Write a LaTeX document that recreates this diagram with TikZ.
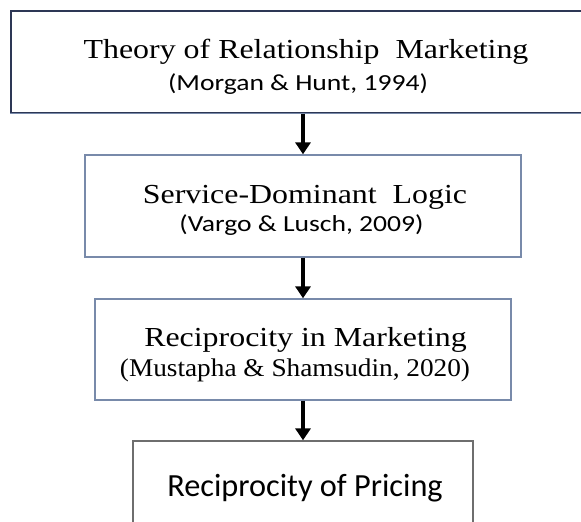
\documentclass[tikz,border=0pt]{standalone}
\usepackage{fontspec}
\usepackage{graphicx}
\setmainfont{Liberation Serif}
\newfontfamily\calfont{Carlito}
\usetikzlibrary{arrows.meta}
\definecolor{navy}{RGB}{45,55,85}
\definecolor{bluegray}{RGB}{120,138,170}
\definecolor{boxgray}{RGB}{110,110,110}
\newcommand{\wideA}[1]{\scalebox{1.16}[1]{#1}}
\newcommand{\wideB}[1]{\scalebox{1.2}[1]{#1}}
\newcommand{\wideC}[1]{\scalebox{1.07}[1]{#1}}
\tikzset{
  x=1pt, y=-1pt,
  boxbase/.style={rectangle, draw, line width=1.3pt, inner sep=0pt, fill=white},
  titletext/.style={anchor=base, inner sep=0pt, font=\fontsize{27.5}{33}\selectfont},
  subsans/.style={anchor=base, inner sep=0pt, font=\calfont\fontsize{23}{28}\selectfont},
  subserif/.style={anchor=base, inner sep=0pt, font=\fontsize{25.5}{31}\selectfont},
  flowarrow/.style={line width=4pt, -{Triangle[width=15pt,length=12pt]}}
}
\begin{document}
\begin{tikzpicture}
\useasboundingbox (0,0) rectangle (581,522);
\clip (0,0) rectangle (581,522);
% boxes
\node[boxbase, draw=navy, minimum width=584pt, minimum height=102pt] (b1) at (303,62) {};
\draw[bluegray, line width=1.3pt] (b1.south west) -- (b1.south east);
\node[boxbase, draw=bluegray, minimum width=436pt, minimum height=102pt] (b2) at (303,206) {};
\node[boxbase, draw=bluegray, minimum width=416pt, minimum height=101pt] (b3) at (303,349.5) {};
\node[boxbase, draw=boxgray, minimum width=340pt, minimum height=120pt] (b4) at (303,501) {};
% texts
\node[titletext] (t1) at (306,58) {\wideA{Theory of Relationship\ \ Marketing}};
\node[subsans] (s1) at (298,90) {\wideB{(Morgan \& Hunt, 1994)}};
\node[titletext] (t2) at (305,203) {\wideA{Service-Dominant\ \ Logic}};
\node[subsans] (s2) at (301.5,231) {\wideB{(Vargo \& Lusch, 2009)}};
\node[titletext] (t3) at (305.5,346) {\wideA{Reciprocity in Marketing}};
\node[subserif] (s3) at (295,376) {\wideC{(Mustapha \& Shamsudin, 2020)}};
\node[titletext, font=\calfont\fontsize{32.3}{38}\selectfont] (t4) at (305,496) {Reciprocity of Pricing};
% arrows
\draw[flowarrow] (b1.south) -- (b2.north);
\draw[flowarrow] (b2.south) -- (b3.north);
\draw[flowarrow] (b3.south) -- (b4.north);
\end{tikzpicture}
\end{document}
